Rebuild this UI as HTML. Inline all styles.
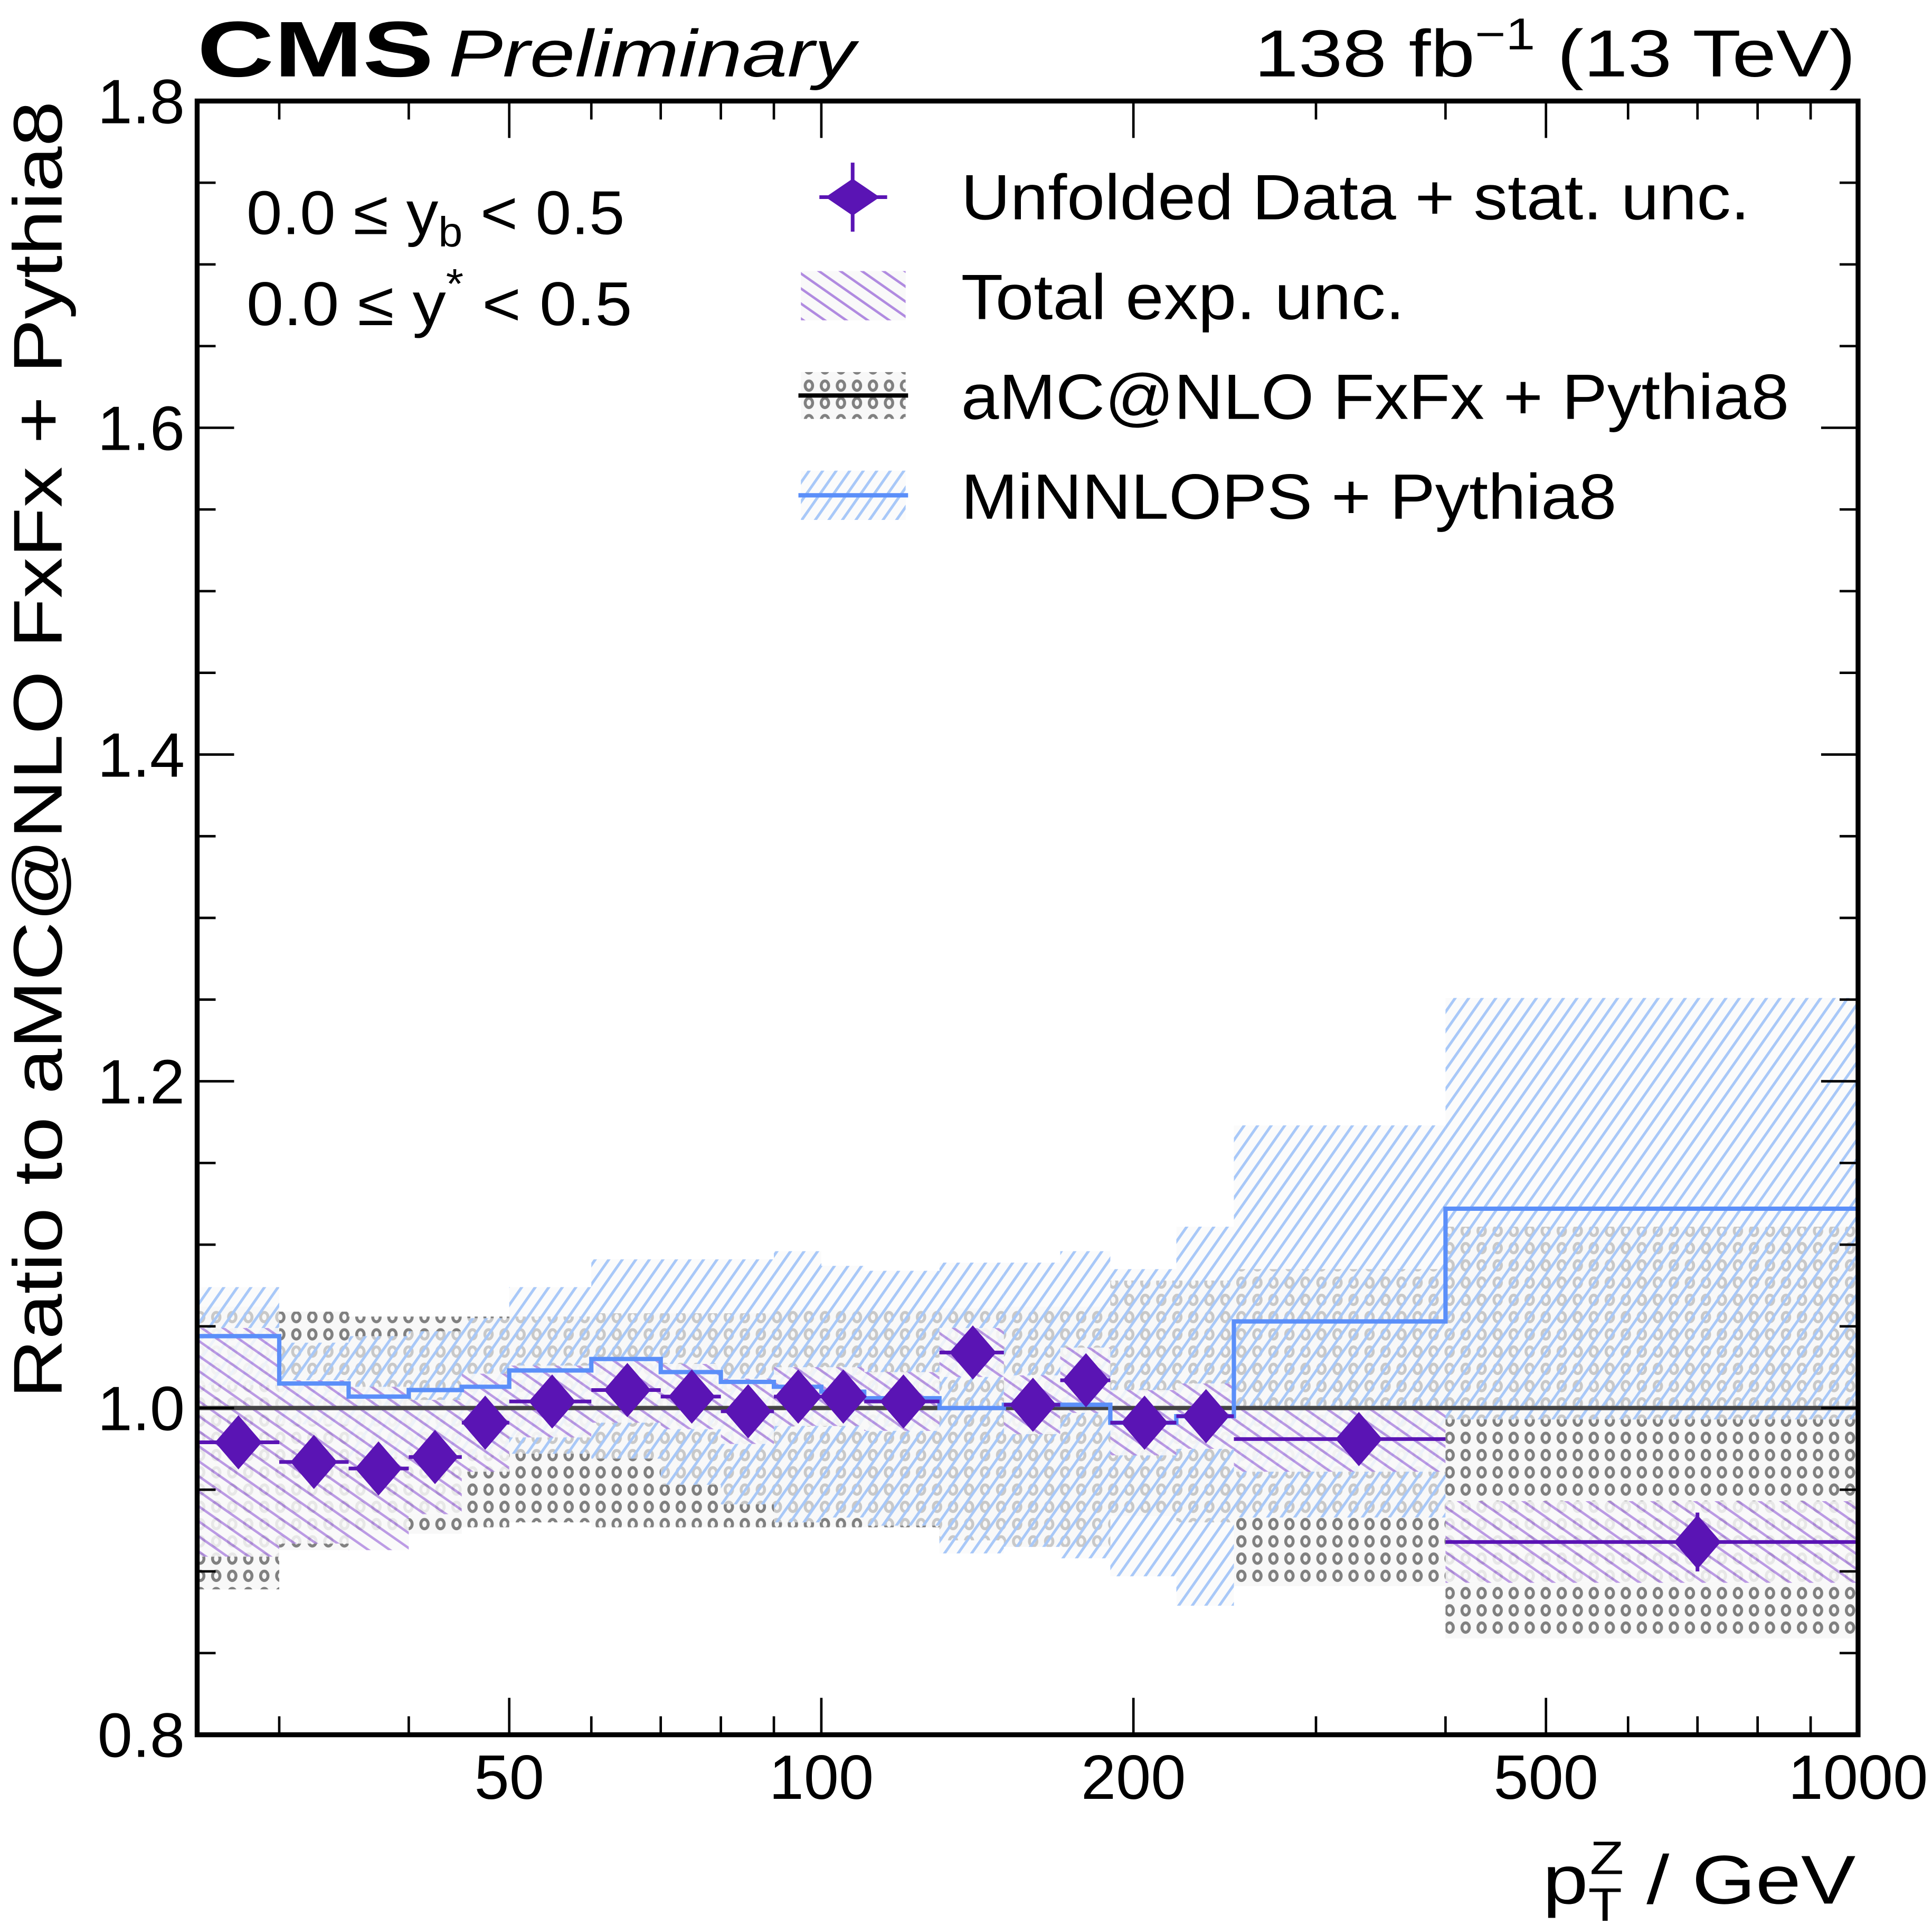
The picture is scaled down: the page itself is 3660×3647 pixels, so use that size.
<!DOCTYPE html>
<html><head><meta charset="utf-8"><style>
html,body{margin:0;padding:0;background:#fff;}
svg{display:block;}
text{font-family:"Liberation Sans",sans-serif;fill:#000;}
</style></head><body>
<svg id="chart" width="3660" height="3647" viewBox="0 0 1568 1562.4" preserveAspectRatio="none" xmlns="http://www.w3.org/2000/svg">
<defs>
<pattern id="hatchPurple" patternUnits="userSpaceOnUse" width="10" height="10" patternTransform="rotate(-55)">
<rect width="10" height="10" fill="#f9f9f9"/><rect x="0" y="0" width="2" height="10" fill="#b08ae0"/></pattern>
<pattern id="hatchBlue" patternUnits="userSpaceOnUse" width="9" height="9" patternTransform="rotate(35)">
<rect width="9" height="9" fill="#f9f9f9" fill-opacity="0.6"/><rect x="0" y="0" width="2.2" height="9" fill="#a8c8f8"/></pattern>
<pattern id="dotsGray" patternUnits="userSpaceOnUse" width="13" height="14">
<rect width="13" height="14" fill="#f8f8f8"/><ellipse cx="6.5" cy="5" rx="3" ry="3.8" fill="none" stroke="#808080" stroke-width="2.4"/></pattern>
</defs>
<g id="bands"></g>
<g id="lines"></g>
<g id="points"></g>
<g id="axes"></g>
<text x="160" y="62" font-size="64" font-weight="bold" textLength="192" lengthAdjust="spacingAndGlyphs">CMS</text>
<text x="364" y="62" font-size="54" font-style="italic" textLength="330" lengthAdjust="spacingAndGlyphs">Preliminary</text>
<text x="1018" y="62" font-size="54" textLength="488" lengthAdjust="spacingAndGlyphs">138 fb<tspan font-size="36" dy="-22">−1</tspan><tspan dy="22"> (13 TeV)</tspan></text>
<text transform="translate(50,82) rotate(-90)" font-size="56" text-anchor="end" textLength="1053" lengthAdjust="spacingAndGlyphs">Ratio to aMC@NLO FxFx + Pythia8</text>
<text x="1252" y="1545" font-size="56" textLength="254" lengthAdjust="spacingAndGlyphs">p<tspan font-size="38" dy="14">T</tspan><tspan font-size="38" dx="-22" dy="-38">Z</tspan><tspan dy="24"> / GeV</tspan></text>
<text x="200" y="190" font-size="50" textLength="307" lengthAdjust="spacingAndGlyphs">0.0 ≤ y<tspan font-size="34" dy="10">b</tspan><tspan dy="-10"> &lt; 0.5</tspan></text>
<text x="200" y="264" font-size="50" textLength="313" lengthAdjust="spacingAndGlyphs">0.0 ≤ y<tspan font-size="34" dy="-22">*</tspan><tspan dy="22"> &lt; 0.5</tspan></text>
<g id="legend">
<g>
<line x1="665" y1="160" x2="720" y2="160" stroke="#5a14b4" stroke-width="3"/><line x1="692" y1="132" x2="692" y2="188" stroke="#5a14b4" stroke-width="3"/>
<polygon points="670,160 692,145 714,160 692,175" fill="#5a14b4"/>
<text x="780" y="178" font-size="52" textLength="640" lengthAdjust="spacingAndGlyphs">Unfolded Data + stat. unc.</text></g>
<g>
<rect x="650" y="220" width="85" height="40" fill="url(#hatchPurple)"/>
<text x="780" y="259" font-size="52" textLength="360" lengthAdjust="spacingAndGlyphs">Total exp. unc.</text></g>
<g>
<rect x="650" y="302" width="85" height="38" fill="url(#dotsGray)"/><line x1="648" y1="321" x2="737" y2="321" stroke="#000" stroke-width="3.5"/>
<text x="780" y="340" font-size="52" textLength="672" lengthAdjust="spacingAndGlyphs">aMC@NLO FxFx + Pythia8</text></g>
<g>
<rect x="650" y="382" width="85" height="40" fill="url(#hatchBlue)"/><line x1="648" y1="402" x2="737" y2="402" stroke="#5b8ff9" stroke-width="3.5"/>
<text x="780" y="421" font-size="52" textLength="532" lengthAdjust="spacingAndGlyphs">MiNNLOPS + Pythia8</text></g>
</g>
</svg>
<script>
const binEdges = [25,30,35,40,45,50,60,70,80,90,100,110,130,150,170,190,220,250,400,1000];
const pointX = [27.4,32.4,37.4,42.4,47.4,55,65,75,85,95,105,120,140,160,180,205,235,330,700];
const dataY = [0.979,0.967,0.963,0.970,0.991,1.004,1.011,1.007,0.998,1.007,1.007,1.004,1.034,1.002,1.017,0.991,0.995,0.981,0.918];
const dataStat = [0.012,0.012,0.012,0.012,0.010,0.010,0.010,0.010,0.010,0.010,0.010,0.010,0.010,0.010,0.010,0.010,0.010,0.010,0.018];
const dataTotUnc = [0.070,0.050,0.050,0.035,0.030,0.022,0.020,0.020,0.020,0.018,0.018,0.018,0.015,0.018,0.020,0.020,0.020,0.020,0.025];
const amcUp = [1.062,1.059,1.056,1.056,1.056,1.056,1.058,1.058,1.058,1.060,1.060,1.060,1.061,1.062,1.062,1.078,1.078,1.085,1.111];
const amcDown = [0.889,0.913,0.923,0.923,0.927,0.930,0.927,0.927,0.927,0.927,0.927,0.927,0.919,0.915,0.915,0.934,0.930,0.891,0.859];
const minnloY = [1.044,1.015,1.007,1.011,1.013,1.023,1.030,1.022,1.016,1.013,1.010,1.006,1.000,1.002,1.002,0.991,0.995,1.053,1.122];
const minnloUp = [1.074,1.040,1.044,1.047,1.055,1.074,1.091,1.091,1.091,1.096,1.087,1.084,1.089,1.089,1.096,1.085,1.111,1.173,1.251];
const yTicks = [0.8,1.0,1.2,1.4,1.6,1.8];
const yTickLabels = ["0.8","1.0","1.2","1.4","1.6","1.8"];
const xTicks = [50,100,200,500,1000];
const xTickLabels = ["50","100","200","500","1000"];
const xMinor = [30,40,60,70,80,90,300,400,600,700,800,900];

const L=160,R=1508,T=82,B=1408, XMIN=25, XMAX=1000, YMIN=0.8, YMAX=1.8;
function sx(v){return L+(Math.log10(v)-Math.log10(XMIN))/(Math.log10(XMAX)-Math.log10(XMIN))*(R-L);}
function sy(v){return B-(v-YMIN)/(YMAX-YMIN)*(B-T);}
const NS="http://www.w3.org/2000/svg";
function mk(tag,attrs,parent){const e=document.createElementNS(NS,tag);for(const k in attrs)e.setAttribute(k,attrs[k]);parent.appendChild(e);return e;}
const bands=document.getElementById('bands'),lines=document.getElementById('lines'),pts=document.getElementById('points'),axes=document.getElementById('axes');
const n=dataY.length;
for(let i=0;i<n;i++){
  const x0=sx(binEdges[i]),x1=sx(binEdges[i+1]);
  let r=mk('rect',{x:x0,y:sy(amcUp[i]),width:x1-x0,height:sy(amcDown[i])-sy(amcUp[i]),fill:'url(#dotsGray)'},bands);
  
  
}
for(let i=0;i<n;i++){
  const x0=sx(binEdges[i]),x1=sx(binEdges[i+1]);
  const lo=2*minnloY[i]-minnloUp[i];
  let r=mk('rect',{x:x0,y:sy(minnloUp[i]),width:x1-x0,height:sy(lo)-sy(minnloUp[i]),fill:'url(#hatchBlue)'},bands);
  
  
}
for(let i=0;i<n;i++){
  const x0=sx(binEdges[i]),x1=sx(binEdges[i+1]);
  let r=mk('rect',{x:x0,y:sy(dataY[i]+dataTotUnc[i]),width:x1-x0,height:sy(dataY[i]-dataTotUnc[i])-sy(dataY[i]+dataTotUnc[i]),fill:'url(#hatchPurple)','fill-opacity':0.85},bands);
  
  
}
let ref=mk('line',{x1:L,x2:R,y1:sy(1),y2:sy(1),stroke:'#444','stroke-width':3.5},lines);


let d='';
for(let i=0;i<n;i++){const x0=sx(binEdges[i]),x1=sx(binEdges[i+1]),y=sy(minnloY[i]);d+=(i===0?'M':'L')+x0+','+y+' L'+x1+','+y+' ';}
let ml=mk('path',{d:d,fill:'none',stroke:'#5b8ff9','stroke-width':3.5},lines);


for(let i=0;i<n;i++){
  const g=mk('g',{},pts);
  
  
  const cx=sx(pointX[i]),cy=sy(dataY[i]);
  mk('line',{x1:sx(binEdges[i]),x2:sx(binEdges[i+1]),y1:cy,y2:cy,stroke:'#5a14b4','stroke-width':3},g);
  mk('line',{x1:cx,x2:cx,y1:sy(dataY[i]+dataStat[i]),y2:sy(dataY[i]-dataStat[i]),stroke:'#5a14b4','stroke-width':3},g);
  mk('polygon',{points:`${cx-19},${cy} ${cx},${cy-22} ${cx+19},${cy} ${cx},${cy+22}`,fill:'#5a14b4'},g);
}
let frame=mk('rect',{x:L,y:T,width:R-L,height:B-T,fill:'none',stroke:'#000','stroke-width':4},axes);


for(let v=0.8;v<=1.8001;v+=0.05){
  const y=sy(v);const major=Math.abs((v*5)-Math.round(v*5))<1e-6;const len=major?30:15;
  mk('line',{x1:L,x2:L+len,y1:y,y2:y,stroke:'#000','stroke-width':2},axes);
  mk('line',{x1:R,x2:R-len,y1:y,y2:y,stroke:'#000','stroke-width':2},axes);
}
yTicks.forEach((v,i)=>{const t=mk('text',{x:150,y:sy(v)+18,'font-size':51,'text-anchor':'end'},axes);t.textContent=yTickLabels[i];
  
  });
xTicks.forEach((v,i)=>{const x=sx(v);
  mk('line',{x1:x,x2:x,y1:B,y2:B-30,stroke:'#000','stroke-width':2},axes);
  mk('line',{x1:x,x2:x,y1:T,y2:T+30,stroke:'#000','stroke-width':2},axes);
  const t=mk('text',{x:Math.min(x,1530),y:1460,'font-size':51,'text-anchor':'middle'},axes);t.textContent=xTickLabels[i];
  
  });
xMinor.forEach(v=>{const x=sx(v);
  mk('line',{x1:x,x2:x,y1:B,y2:B-15,stroke:'#000','stroke-width':2},axes);
  mk('line',{x1:x,x2:x,y1:T,y2:T+15,stroke:'#000','stroke-width':2},axes);});
</script>
</body></html>
